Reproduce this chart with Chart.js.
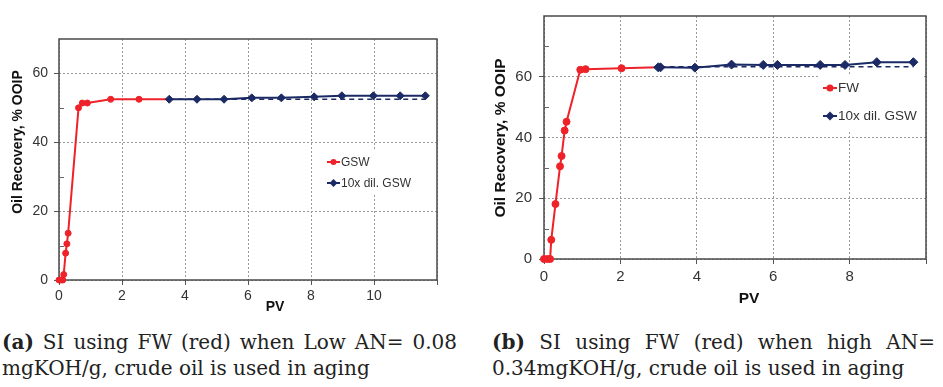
<!DOCTYPE html>
<html><head><meta charset="utf-8">
<script src="https://cdn.jsdelivr.net/npm/chart.js@4/dist/chart.umd.min.js"></script>
<style>
body{margin:0;background:#fff;width:943px;height:387px;overflow:hidden;position:relative;}
canvas{position:absolute;top:0;}
.cap{position:absolute;font-family:"DejaVu Serif",serif;font-size:20px;color:#222;line-height:26px;}
.j{text-align:justify;text-align-last:justify;white-space:nowrap;}
.l{white-space:nowrap;}
</style></head><body>
<canvas id="ca" width="470" height="320" style="left:0"></canvas>
<canvas id="cb" width="473" height="320" style="left:470px"></canvas>
<div class="cap" style="left:2px;top:329px;width:455px">
 <div class="j"><b>(a)</b> SI using FW (red) when Low AN= 0.08</div>
 <div class="l">mgKOH/g, crude oil is used in aging</div>
</div>
<div class="cap" style="left:492px;top:329px;width:443px">
 <div class="j"><b>(b)</b> SI using FW (red) when high AN=</div>
 <div class="l">0.34mgKOH/g, crude oil is used in aging</div>
</div>
<script>
// ---- data: panel (a) ----
const gswPV   = [0, 0.06, 0.12, 0.15, 0.21, 0.25, 0.29, 0.62, 0.74, 0.9, 1.64, 2.54, 3.5];
const gswRec  = [0, 0, 0, 1.6, 7.8, 10.5, 13.6, 50.0, 51.4, 51.4, 52.5, 52.5, 52.5];
const dilA_PV  = [3.5, 4.38, 5.24, 6.12, 7.06, 8.1, 8.98, 9.98, 10.83, 11.63];
const dilA_Rec = [52.5, 52.5, 52.5, 52.9, 52.9, 53.2, 53.5, 53.5, 53.5, 53.5];
const baseA_PV  = [3.5, 11.63];
const baseA_Rec = [52.5, 52.5];
// ---- data: panel (b) ----
const fwPV   = [0, 0.09, 0.16, 0.19, 0.30, 0.42, 0.46, 0.54, 0.59, 0.95, 1.09, 2.03, 2.99];
const fwRec  = [0, 0, 0, 6.3, 18.1, 30.5, 33.9, 42.3, 45.2, 62.3, 62.5, 62.8, 63.1];
const dilB_PV  = [2.99, 3.05, 3.95, 4.91, 5.74, 6.11, 7.23, 7.88, 8.71, 9.67];
const dilB_Rec = [63.1, 63.1, 63.0, 64.0, 63.9, 63.9, 63.9, 63.9, 64.8, 64.8];
const baseB_PV  = [3.05, 9.67];
const baseB_Rec = [63.3, 63.3];
// ticks
const xTicksA = [0, 2, 4, 6, 8, 10];
const yTicksA = [0, 20, 40, 60];
const xTicksB = [0, 2, 4, 6, 8];
const yTicksB = [0, 20, 40, 60];
const yTitle = 'Oil Recovery, % OOIP';
const xTitle = 'PV';

const RED = '#ee2229', NAVY = '#1b2a64';
const pts = (xs, ys) => xs.map((x, i) => ({x, y: ys[i]}));

function build(id, o) {
  const fam = '"Liberation Sans", Arial, sans-serif';
  const framePlugin = {
    id: 'frame',
    beforeDatasetsDraw(ch) {
      const c = ch.ctx, a = ch.chartArea, ys = ch.scales.y;
      c.save();
      c.strokeStyle = '#4a4a4a'; c.lineWidth = 1.5;
      c.strokeRect(a.left, a.top, a.right - a.left, a.bottom - a.top);
      c.lineWidth = 1; c.strokeStyle = '#666';
      for (let v = 10; v < o.ymax; v += 20) {
        const py = Math.round(ys.getPixelForValue(v)) + 0.5;
        c.beginPath(); c.moveTo(a.left, py); c.lineTo(a.left + 5, py); c.stroke();
      }
      c.restore();
    },
    afterDraw(ch) {
      const c = ch.ctx;
      c.save();
      c.fillStyle = '#111';
      c.font = 'bold ' + o.titleSize + 'px ' + fam;
      c.textAlign = 'center'; c.textBaseline = 'middle';
      c.save(); c.translate(o.yt[0], o.yt[1]); c.rotate(-Math.PI / 2);
      c.fillText(yTitle, 0, 0); c.restore();
      c.fillText(xTitle, o.xt[0], o.xt[1]);
      // legend
      const L = o.leg;
      c.fillStyle = '#fff'; c.fillRect(L.box[0], L.box[1], L.box[2], L.box[3]);
      c.font = L.size + 'px ' + fam; c.textAlign = 'left';
      [0, 1].forEach(k => {
        const ds = ch.data.datasets[k];
        const y = L.rows[k];
        c.strokeStyle = ds.borderColor; c.lineWidth = 2;
        c.beginPath(); c.moveTo(L.x0, y); c.lineTo(L.x1, y); c.stroke();
        const mx = (L.x0 + L.x1) / 2;
        c.fillStyle = ds.borderColor;
        c.beginPath();
        if (k === 0) { c.arc(mx, y, L.r, 0, Math.PI * 2); }
        else { const r = L.r + 1; c.moveTo(mx, y - r); c.lineTo(mx + r, y); c.lineTo(mx, y + r); c.lineTo(mx - r, y); c.closePath(); }
        c.fill();
        c.fillStyle = '#333';
        c.fillText(ds.label, L.x1 + 1, y + 0.5);
      });
      c.restore();
    }
  };
  const grid = {
    color: '#9a9a9a', lineWidth: 1, tickLength: 5, tickColor: '#555', tickBorderDash: []
  };
  return new Chart(document.getElementById(id), {
    type: 'line',
    data: { datasets: [
      { label: o.redLabel, data: pts(o.rx, o.ry), borderColor: RED, backgroundColor: RED,
        borderWidth: 2, pointStyle: 'circle',
        pointRadius: c => c.dataIndex === o.rx.length - 1 ? 0 : o.rr,
        pointBorderWidth: 1, clip: false, order: 2 },
      { label: '10x dil. GSW', data: pts(o.bx, o.by), borderColor: NAVY, backgroundColor: NAVY,
        borderWidth: 2, pointStyle: 'rectRot', pointRadius: o.br, pointBorderWidth: 1, clip: false, order: 1 },
      { label: 'base', data: pts(o.dx, o.dy), borderColor: NAVY, borderWidth: 1.5,
        borderDash: [5, 4], pointRadius: 0, clip: false, order: 3 }
    ]},
    options: {
      responsive: false, animation: false, devicePixelRatio: 1,
      layout: { padding: o.pad },
      plugins: { legend: { display: false }, tooltip: { enabled: false } },
      scales: {
        x: { type: 'linear', min: 0, max: o.xmax,
          afterFit: s => { s.height = o.xh; },
          afterBuildTicks: s => { s.ticks = o.xticks.concat([o.xmax]).map(v => ({value: v})); },
          ticks: { stepSize: 2, padding: o.xpad, color: '#333', font: { family: fam, size: o.tick },
            callback: v => o.xticks.includes(v) ? String(v) : '' },
          grid: Object.assign({}, grid), border: { display: false, dash: [2, 2] } },
        y: { min: 0, max: o.ymax,
          afterFit: s => { s.width = o.yw; },
          afterBuildTicks: s => { s.ticks = o.yticks.map(v => ({value: v})); },
          ticks: { stepSize: 20, padding: o.ypad, color: '#333', font: { family: fam, size: o.tick } },
          grid: Object.assign({}, grid), border: { display: false, dash: [2, 2] } }
      }
    },
    plugins: [framePlugin]
  });
}

build('ca', {
  rx: gswPV, ry: gswRec, bx: dilA_PV, by: dilA_Rec, dx: baseA_PV, dy: baseA_Rec,
  redLabel: 'GSW', rr: 3, br: 4, xmax: 12, ymax: 70, xticks: xTicksA, yticks: yTicksA,
  pad: { left: 0, top: 39, right: 33, bottom: 0 }, yw: 59, xh: 40, xpad: 3, ypad: 6, tick: 14,
  titleSize: 14, yt: [18, 142], xt: [275, 307],
  leg: { box: [320, 150, 98, 44], x0: 327, x1: 340, rows: [162, 183], size: 12, r: 3 }
});
build('cb', {
  rx: fwPV, ry: fwRec, bx: dilB_PV, by: dilB_Rec, dx: baseB_PV, dy: baseB_Rec,
  redLabel: 'FW', rr: 3.5, br: 4.5, xmax: 10, ymax: 80, xticks: xTicksB, yticks: yTicksB,
  pad: { left: 0, top: 7, right: 17, bottom: 0 }, yw: 74, xh: 61, xpad: 4, ypad: 7, tick: 15,
  titleSize: 15.5, yt: [31, 138], xt: [279, 299],
  leg: { box: [348, 74, 106, 56], x0: 353, x1: 367, rows: [88, 116], size: 13.5, r: 3.5 }
});
</script>
</body></html>
